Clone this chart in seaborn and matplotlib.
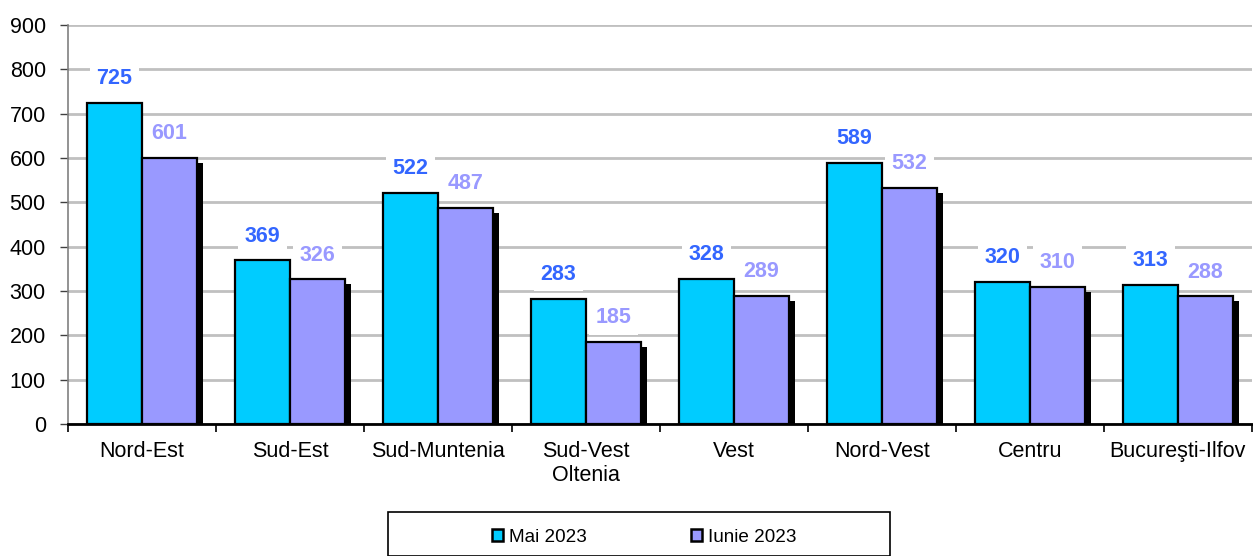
import matplotlib
matplotlib.use("Agg")
import matplotlib.pyplot as plt
import matplotlib.transforms as mtransforms
from matplotlib.patches import Rectangle, Patch
import seaborn as sns
import pandas as pd

regions = ["Nord-Est", "Sud-Est", "Sud-Muntenia", "Sud-Vest\nOltenia", "Vest",
           "Nord-Vest", "Centru", "Bucureşti-Ilfov"]
series_names = ["Mai 2023", "Iunie 2023"]
mai_2023 = [725, 369, 522, 283, 328, 589, 320, 313]
iunie_2023 = [601, 326, 487, 185, 289, 532, 310, 288]
y_ticks = [0, 100, 200, 300, 400, 500, 600, 700, 800, 900]

bar_colors = ["#00CCFF", "#9999FF"]
label_colors = ["#3366FF", "#9999FF"]

df = pd.DataFrame({
    "Regiune": regions * 2,
    "Serie": [series_names[0]] * len(regions) + [series_names[1]] * len(regions),
    "Valoare": mai_2023 + iunie_2023,
})

sns.set_theme(style="white")
plt.rcParams["font.family"] = ["Liberation Sans", "DejaVu Sans"]
plt.rcParams["text.color"] = "black"
plt.rcParams["xtick.color"] = "black"
plt.rcParams["ytick.color"] = "black"

fig = plt.figure(figsize=(12.53, 5.56), dpi=100)
ax = fig.add_axes([68 / 1253, 1 - 424 / 556, 1 - 68 / 1253 - 0.001, (424 - 25) / 556])

sns.barplot(data=df, x="Regiune", y="Valoare", hue="Serie", palette=bar_colors,
            saturation=1, width=0.745, edgecolor="black", linewidth=1.6, ax=ax,
            legend=False, zorder=3)

# shadows behind second series
shadow_tr = mtransforms.offset_copy(ax.transData, fig=fig, x=6, y=-5, units="dots")
n = len(regions)
patches = list(ax.patches)
for p in patches[n:2 * n]:
    r = Rectangle((p.get_x(), p.get_y()), p.get_width(), p.get_height(),
                  transform=shadow_tr, facecolor="black", edgecolor="none", zorder=2)
    ax.add_patch(r)

# value labels
for i, vals in enumerate([mai_2023, iunie_2023]):
    for j, p in enumerate(patches[i * n:(i + 1) * n]):
        ax.annotate(str(vals[j]), (p.get_x() + p.get_width() / 2, p.get_height()),
                    xytext=(0, 17.5), textcoords="offset points", ha="center", va="center",
                    fontsize=15.5, fontweight="bold", color=label_colors[i], zorder=5,
                    bbox=dict(boxstyle="square,pad=0.3", facecolor="white", edgecolor="none"))

ax.set_ylim(0, 900)
ax.set_yticks(y_ticks)
ax.set_xlim(-0.5, n - 0.5)
ax.yaxis.grid(True, color="#C0C0C0", linewidth=2, zorder=0)
ax.set_axisbelow(True)
ax.set_xlabel("")
ax.set_ylabel("")

for s in ["top", "right"]:
    ax.spines[s].set_visible(False)
ax.spines["left"].set_color("#808080")
ax.spines["left"].set_linewidth(1.2)
ax.spines["bottom"].set_color("black")
ax.spines["bottom"].set_linewidth(2)
ax.spines["bottom"].set_zorder(4)

ax.tick_params(axis="y", direction="out", length=6, width=1, color="#404040",
               labelsize=15.5, pad=10, left=True)
ax.tick_params(axis="x", which="major", length=0, labelsize=15.5, pad=12)
ax.set_xticks(range(n))
ax.set_xticklabels(regions, linespacing=1.2)
ax.set_xticks([i - 0.5 for i in range(n + 1)], minor=True)
ax.tick_params(axis="x", which="minor", direction="out", length=6, width=1.2,
               color="black", bottom=True)

# legend
fig.patches.append(Rectangle((388 / 1253, 0), 502 / 1253, 44 / 556,
                             transform=fig.transFigure, facecolor="white",
                             edgecolor="black", linewidth=1.2))
handles = [Patch(facecolor=c, edgecolor="black", linewidth=1.8) for c in bar_colors]
fig.legend(handles, series_names, loc="center", bbox_to_anchor=(644 / 1253, 1 - 537 / 556),
           ncol=2, frameon=False, fontsize=13.6, handlelength=0.6, handleheight=0.6,
           handletextpad=0.3, columnspacing=5.5)

fig.savefig("out.png", dpi=100)
